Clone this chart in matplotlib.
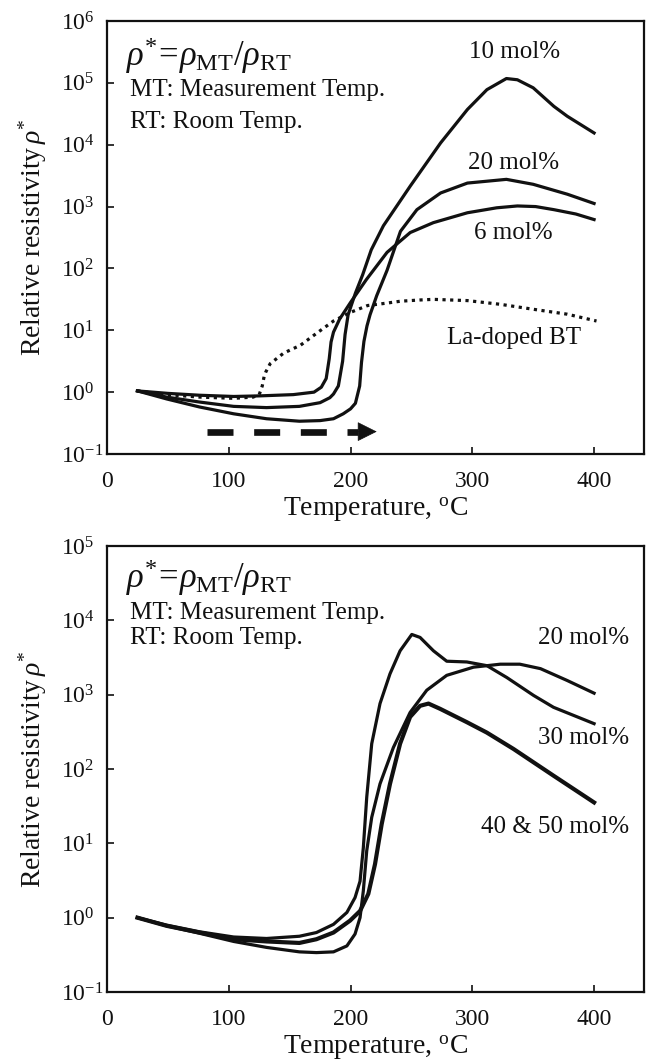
import numpy as np
import matplotlib
matplotlib.use('Agg')
import matplotlib.pyplot as plt
from matplotlib.ticker import FixedLocator, FuncFormatter

plt.rcParams['font.family'] = ['Liberation Serif', 'DejaVu Serif']
plt.rcParams['mathtext.fontset'] = 'custom'
plt.rcParams['mathtext.rm'] = 'Liberation Serif'
plt.rcParams['mathtext.it'] = 'Liberation Serif:italic'
plt.rcParams['mathtext.bf'] = 'Liberation Serif:bold'

# ---- top panel: log10 of relative resistivity ----
t_6 = [25, 50, 76, 104, 126, 153, 170, 176, 180, 182.5, 184, 186, 191, 200,
       213, 230, 249, 268, 296, 320, 337, 352, 367, 385, 400]
lr_6 = [0.02, -0.02, -0.05, -0.07, -0.06, -0.04, 0.0, 0.08, 0.22, 0.54, 0.81,
        0.97, 1.18, 1.45, 1.82, 2.26, 2.58, 2.74, 2.90, 2.98, 3.01, 3.0, 2.95,
        2.88, 2.79]

t_10 = [25, 49, 76, 104, 131, 158, 175, 183, 186, 190, 193.5, 195.5, 198, 204,
        210, 217, 227, 249, 274, 296, 312, 328, 337, 350, 367, 378, 400]
lr_10 = [0.02, -0.08, -0.16, -0.23, -0.25, -0.23, -0.17, -0.09, -0.03, 0.10,
         0.50, 0.93, 1.25, 1.60, 1.90, 2.30, 2.69, 3.33, 4.03, 4.57, 4.89, 5.07,
         5.05, 4.92, 4.62, 4.46, 4.19]

t_20 = [25, 49, 76, 104, 131, 158, 175, 186, 194, 200, 204, 207.5, 209, 211,
        213.5, 216, 221.5, 230, 241, 254.5, 274, 296, 328, 350, 378, 400]
lr_20 = [0.02, -0.11, -0.24, -0.35, -0.43, -0.47, -0.46, -0.43, -0.35, -0.27,
         -0.18, 0.10, 0.48, 0.82, 1.07, 1.25, 1.56, 1.97, 2.60, 2.95, 3.22, 3.38,
         3.44, 3.36, 3.20, 3.05]

t_la = [25, 49, 76, 104, 120, 125, 127.5, 129, 130.5, 134, 145, 159, 172, 186,
        200, 214, 230, 241, 257, 268, 296, 323, 350, 378, 402]
lr_la = [0.02, -0.04, -0.08, -0.10, -0.08, -0.04, 0.10, 0.25, 0.33, 0.46, 0.63,
         0.76, 0.95, 1.15, 1.29, 1.40, 1.44, 1.47, 1.49, 1.50, 1.48, 1.42, 1.34,
         1.26, 1.15]

# ---- bottom panel ----
tb_20 = [25, 49, 76, 104, 131, 158, 172, 186, 197, 203.7, 207.8, 210.5, 213.3,
         217.4, 224.2, 235.2, 248.9, 262.6, 279, 301, 323, 339, 356, 378, 400]
lrb_20 = [0.0, -0.11, -0.21, -0.32, -0.40, -0.46, -0.47, -0.46, -0.38, -0.22,
          0.0, 0.36, 0.90, 1.35, 1.80, 2.29, 2.76, 3.06, 3.26, 3.37, 3.41, 3.41,
          3.35, 3.19, 3.02]

tb_30 = [25, 49, 76, 104, 131, 158, 172, 186, 197, 203.7, 207.8, 210.5, 213.3,
         217.4, 224.2, 232.4, 240.7, 250.3, 257.1, 268.1, 279, 295.5, 312, 328.4,
         350.3, 366.7, 400]
lrb_30 = [0.0, -0.10, -0.19, -0.26, -0.28, -0.25, -0.20, -0.09, 0.07, 0.27,
          0.49, 0.94, 1.62, 2.34, 2.88, 3.28, 3.59, 3.81, 3.77, 3.59, 3.45, 3.44,
          3.39, 3.23, 2.99, 2.83, 2.61]

tb_40 = [25, 49, 76, 104, 131, 158, 172, 186, 199.6, 207.8, 214.6, 220.1, 225.6,
         232.4, 240.7, 248.9, 257.1, 264, 273.5, 295.5, 311.9, 333.8, 366.7, 400]
lrb_40 = [0.0, -0.11, -0.20, -0.29, -0.32, -0.34, -0.29, -0.20, -0.04, 0.09,
          0.32, 0.72, 1.26, 1.80, 2.34, 2.70, 2.85, 2.88, 2.81, 2.63, 2.49, 2.27,
          1.91, 1.55]

x_ticks = [0, 100, 200, 300, 400]

ink = '#111111'


def sup_fmt(v, pos):
    return r'$10^{%d}$' % int(round(np.log10(v)))


def style_axis(ax, ymin_exp, ymax_exp):
    ax.set_yscale('log')
    ax.set_xlim(0, 441)
    ax.set_ylim(10.0 ** ymin_exp, 10.0 ** ymax_exp)
    ax.xaxis.set_major_locator(FixedLocator(x_ticks))
    ax.yaxis.set_major_locator(FixedLocator([10.0 ** e for e in range(ymin_exp, ymax_exp + 1)]))
    ax.yaxis.set_minor_locator(FixedLocator([]))
    ax.yaxis.set_major_formatter(FuncFormatter(sup_fmt))
    ax.tick_params(direction='in', length=5, width=1.2, colors=ink, labelsize=17)
    ax.tick_params(axis='x', pad=12)
    ax.tick_params(axis='y', pad=33)
    for lab in ax.get_yticklabels():
        lab.set_horizontalalignment('left')
    for sp in ax.spines.values():
        sp.set_linewidth(1.6)
        sp.set_color(ink)
    ax.set_xlabel(r'Temperature, $^{\mathrm{o}}$C', fontsize=20, color=ink, labelpad=3)
    ax.set_ylabel(r'Relative resistivity$\,\rho^{*}$', fontsize=20, color=ink)
    ax.yaxis.set_label_coords(-0.108, 0.5)


def head_text(ax, y0, y1, y2):
    ax.text(0.035, y0, r'$\rho^{*}\!=\!\rho_{\mathrm{MT}}/\rho_{\mathrm{RT}}$',
            transform=ax.transAxes, fontsize=25, va='center', ha='left', color=ink)
    ax.text(0.043, y1, 'MT: Measurement Temp.', transform=ax.transAxes,
            fontsize=18, va='center', ha='left', color=ink)
    ax.text(0.043, y2, 'RT: Room Temp.', transform=ax.transAxes,
            fontsize=18, va='center', ha='left', color=ink)


fig = plt.figure(figsize=(6.46, 10.6), dpi=100)
ax1 = fig.add_axes([107 / 646, (1060 - 454) / 1060, 537 / 646, 433 / 1060])
ax2 = fig.add_axes([107 / 646, (1060 - 992) / 1060, 537 / 646, 446 / 1060])

# top panel
style_axis(ax1, -1, 6)
lw = 2.3
ax1.plot(t_6, 10 ** np.array(lr_6), color=ink, lw=lw, solid_joinstyle='round')
ax1.plot(t_10, 10 ** np.array(lr_10), color=ink, lw=lw, solid_joinstyle='round')
ax1.plot(t_20, 10 ** np.array(lr_20), color=ink, lw=lw, solid_joinstyle='round')
ax1.plot(t_la, 10 ** np.array(lr_la), color=ink, lw=2.3, linestyle=(0, (1, 1.4)))

ax1.text(335, 10 ** 5.5, '10 mol%', fontsize=18, ha='center', va='center', color=ink)
ax1.text(334, 10 ** 3.7, '20 mol%', fontsize=18, ha='center', va='center', color=ink)
ax1.text(334, 10 ** 2.57, '6 mol%', fontsize=18, ha='center', va='center', color=ink)
ax1.text(334, 10 ** 0.87, 'La-doped BT', fontsize=18, ha='center', va='center', color=ink)
head_text(ax1, 0.921, 0.841, 0.767)

# heating direction arrow
arrow_y = 0.23
ax1.plot([82, 206], [arrow_y, arrow_y], color=ink, lw=4.8, dashes=(3.9, 3.1),
         solid_capstyle='butt', dash_capstyle='butt')
ax1.annotate('', xy=(221.5, arrow_y), xytext=(205, arrow_y),
             arrowprops=dict(arrowstyle='-|>', mutation_scale=32, lw=0.5,
                             color=ink, shrinkA=0, shrinkB=0))

# bottom panel
style_axis(ax2, -1, 5)
ax2.plot(tb_20, 10 ** np.array(lrb_20), color=ink, lw=lw, solid_joinstyle='round')
ax2.plot(tb_30, 10 ** np.array(lrb_30), color=ink, lw=lw, solid_joinstyle='round')
ax2.plot(tb_40, 10 ** np.array(lrb_40), color=ink, lw=3.0, solid_joinstyle='round')

ax2.text(429, 10 ** 3.76, '20 mol%', fontsize=18, ha='right', va='center', color=ink)
ax2.text(429, 10 ** 2.42, '30 mol%', fontsize=18, ha='right', va='center', color=ink)
ax2.text(429, 10 ** 1.22, '40 & 50 mol%', fontsize=18, ha='right', va='center', color=ink)
head_text(ax2, 0.930, 0.849, 0.793)

fig.savefig('out.png', dpi=100)
